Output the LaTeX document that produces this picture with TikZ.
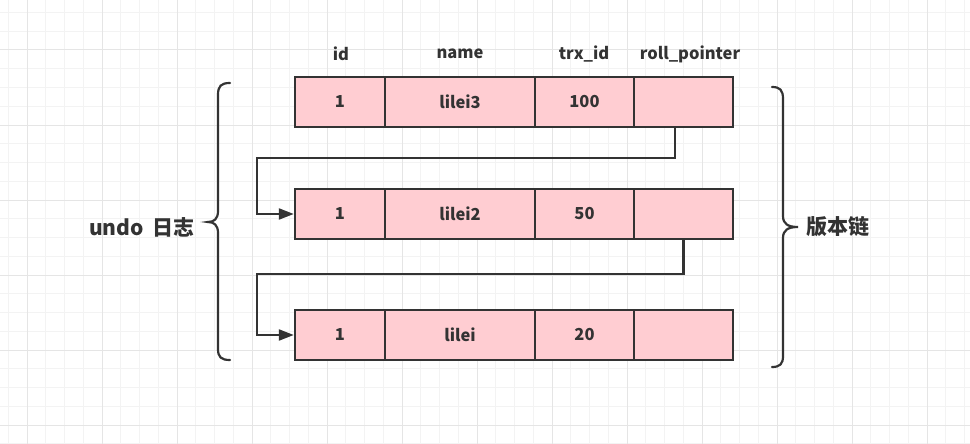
\documentclass[tikz,border=0pt]{standalone}
\usepackage{fontspec}
\setmainfont{Noto Sans CJK SC}
\usetikzlibrary{arrows.meta}
\definecolor{ink}{HTML}{333333}
\definecolor{cellfill}{HTML}{FFCDD2}
\definecolor{gridminor}{HTML}{F3F3F3}
\definecolor{gridmajor}{HTML}{E5E5E5}
\tikzset{
  cellbox/.style={draw=ink, fill=cellfill, line width=2.4pt, minimum height=50pt, inner sep=0pt, anchor=center, text=ink, font=\fontsize{16.5}{16.5}\selectfont\bfseries},
  hdr/.style={text=ink, font=\fontsize{16.5}{16.5}\selectfont\bfseries, inner sep=0pt},
  sidelabel/.style={text=ink, font=\fontsize{21}{21}\selectfont\bfseries, inner sep=0pt},
  conn/.style={draw=ink, line width=2.2pt, -{Triangle[length=15pt,width=11pt]}},
  bracestyle/.style={draw=ink, line width=2.2pt, line cap=round},
  minorline/.style={draw=gridminor, line width=1pt},
  majorline/.style={draw=gridmajor, line width=1pt}
}
\begin{document}
\begin{tikzpicture}[x=1pt,y=-1pt]
\fill[white] (0,0) rectangle (970,444);
\useasboundingbox (0,0) rectangle (970,444);
% grid
\foreach \i in {-1,...,51} {\pgfmathsetmacro\xx{27+18.75*\i}\draw[minorline] (\xx,0) -- (\xx,444);}
\foreach \i in {-2,...,21} {\pgfmathsetmacro\yy{50+18.75*\i}\draw[minorline] (0,\yy) -- (970,\yy);}
\foreach \i in {0,...,12} {\pgfmathsetmacro\xx{27+75*\i}\draw[majorline] (\xx,0) -- (\xx,444);}
\foreach \i in {0,...,5} {\pgfmathsetmacro\yy{50+75*\i}\draw[majorline] (0,\yy) -- (970,\yy);}
% headers
\node[hdr] (hid) at (341,54) {id};
\node[hdr] (hname) at (460,54) {name};
\node[hdr] (htrx) at (584,54) {trx\_id};
\node[hdr] (hroll) at (690,54) {roll\_pointer};
% rows
\foreach \r/\y/\nm/\trx in {1/102/lilei3/100, 2/214/lilei2/50, 3/335/lilei/20} {
  \node[cellbox, minimum width=90pt] (r\r c1) at (340,\y) {1};
  \node[cellbox, minimum width=150pt] (r\r c2) at (460,\y) {\nm};
  \node[cellbox, minimum width=99pt] (r\r c3) at (584.5,\y) {\trx};
  \node[cellbox, minimum width=99pt] (r\r c4) at (683.5,\y) {};
}
% connectors
\coordinate (k1) at (257,158);
\coordinate (k2) at (257,274);
\draw[conn] ([xshift=-8.5pt]r1c4.south) |- (k1) |- (r2c1.west);
\draw[conn] (r2c4.south) |- (k2) |- (r3c1.west);
% left brace
\draw[bracestyle] (230,83) .. controls (221,83) and (218,86) .. (218,95) -- (218,211)
  .. controls (218,219) and (214,222) .. (208,222)
  .. controls (214,222) and (218,225) .. (218,233) -- (218,349)
  .. controls (218,357) and (221,360) .. (230,360);
% right brace
\draw[bracestyle] (772,87) .. controls (780,87) and (783,90) .. (783,99) -- (783,216)
  .. controls (783,224) and (788,227) .. (798,227)
  .. controls (788,227) and (783,230) .. (783,238) -- (783,356)
  .. controls (783,364) and (780,367) .. (772,367);
% side labels
\node[sidelabel, anchor=east] (undo) at (195,227) {undo\hspace{0.2em} 日志};
\node[sidelabel, anchor=west] (chain) at (806,227) {版本链};
\end{tikzpicture}
\end{document}
